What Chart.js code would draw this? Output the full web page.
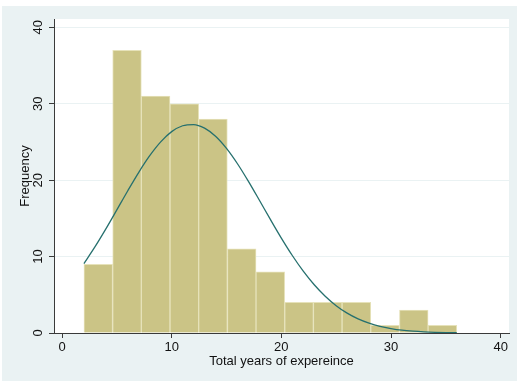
<!DOCTYPE html>
<html>
<head>
<meta charset="utf-8">
<script src="https://cdn.jsdelivr.net/npm/chart.js@4/dist/chart.umd.min.js"></script>
<style>
  html, body { margin: 0; padding: 0; background: #ffffff; }
  #wrap { width: 517px; height: 381px; position: relative; }
</style>
</head>
<body>
<div id="wrap"><canvas id="hist" width="517" height="381"></canvas></div>
<script>
// Histogram of total years of experience (13 bins) with a fitted normal curve
const binStarts = [2.00, 4.62, 7.23, 9.85, 12.46, 15.08, 17.69, 20.31, 22.92, 25.54, 28.15, 30.77, 33.38];
const binWidth = 34 / 13;
const frequencies = [9, 37, 31, 30, 28, 11, 8, 4, 4, 4, 1, 3, 1];

// Normal density curve (scaled to frequency), sampled once per year
const curveYears = [2, 3, 4, 5, 6, 7, 8, 9, 10, 11, 12, 13, 14, 15, 16, 17, 18, 19,
                    20, 21, 22, 23, 24, 25, 26, 27, 28, 29, 30, 31, 32, 33, 34, 35, 36];
const curveFreq = [9.09, 11.26, 13.62, 16.11, 18.62, 21.03, 23.20, 25.01, 26.35, 27.12, 27.28,
                   26.81, 25.75, 24.16, 22.15, 19.84, 17.37, 14.86, 12.42, 10.14, 8.09, 6.31,
                   4.81, 3.58, 2.60, 1.85, 1.29, 0.87, 0.58, 0.37, 0.24, 0.15, 0.09, 0.05, 0.03];

const xTicks = [0, 10, 20, 30, 40];
const yTicks = [0, 10, 20, 30, 40];

const BG = 'rgb(234,242,243)';
const AXIS = '#3a3a3a';
const FONT = '"Liberation Sans", Arial, Helvetica, sans-serif';

const barPoints = binStarts.map((s, i) => ({ x: s + binWidth / 2, y: frequencies[i] }));
const curvePoints = curveYears.map((x, i) => ({ x: x, y: curveFreq[i] }));

// Outer graph region and white plot region
const frame = {
  id: 'frame',
  beforeDraw(chart) {
    const { ctx, chartArea: a } = chart;
    ctx.save();
    ctx.fillStyle = '#ffffff';
    ctx.fillRect(0, 0, chart.width, chart.height);
    ctx.fillStyle = BG;
    ctx.fillRect(2, 6, chart.width - 2, chart.height - 6);
    ctx.fillStyle = '#ffffff';
    ctx.fillRect(a.left, a.top, a.right - a.left, a.bottom - a.top);
    ctx.restore();
  }
};

// Vertical (rotated) y tick labels
const yLabels = {
  id: 'yLabels',
  afterDraw(chart) {
    const { ctx } = chart;
    const ys = chart.scales.y;
    ctx.save();
    ctx.fillStyle = '#111';
    ctx.font = '13px ' + FONT;
    ctx.textAlign = 'center';
    ctx.textBaseline = 'middle';
    yTicks.forEach(v => {
      const py = ys.getPixelForValue(v);
      ctx.save();
      ctx.translate(38, py);
      ctx.rotate(-Math.PI / 2);
      ctx.fillText(String(v), 0, 0);
      ctx.restore();
    });
    ctx.restore();
  }
};

new Chart(document.getElementById('hist'), {
  type: 'bar',
  data: {
    datasets: [
      {
        type: 'line',
        data: curvePoints,
        borderColor: 'rgb(38,112,110)',
        borderWidth: 1.3,
        pointRadius: 0,
        cubicInterpolationMode: 'monotone',
        fill: false,
        order: 0
      },
      {
        type: 'bar',
        data: barPoints,
        backgroundColor: 'rgb(203,196,134)',
        borderColor: 'rgb(230,226,186)',
        borderWidth: 1,
        barPercentage: 1,
        categoryPercentage: 1,
        order: 1
      }
    ]
  },
  options: {
    responsive: false,
    animation: false,
    layout: { padding: { top: 19, right: 8, left: 0, bottom: 0 } },
    plugins: { legend: { display: false }, tooltip: { enabled: false } },
    scales: {
      x: {
        type: 'linear',
        offset: false,
        min: -0.73,
        max: 40.76,
        afterBuildTicks: s => { s.ticks = xTicks.map(v => ({ value: v })); },
        afterFit: s => { s.height = 48; },
        grid: { offset: false, drawOnChartArea: false, drawTicks: true, tickLength: 5, tickColor: AXIS, lineWidth: 1 },
        border: { display: true, color: AXIS, width: 1 },
        ticks: { color: '#111', font: { family: FONT, size: 13 }, padding: 2, maxRotation: 0 },
        title: { display: true, text: 'Total years of expereince', color: '#111',
                 font: { family: FONT, size: 13 }, padding: { top: 0, bottom: 12 } }
      },
      y: {
        type: 'linear',
        min: 0,
        max: 41.09,
        afterBuildTicks: s => { s.ticks = yTicks.map(v => ({ value: v })); },
        afterFit: s => { s.width = 54; },
        grid: {
          color: c => (c.tick && c.tick.value === 0 ? 'rgba(0,0,0,0)' : BG),
          lineWidth: 1,
          drawTicks: true,
          tickLength: 5,
          tickColor: AXIS
        },
        border: { display: true, color: AXIS, width: 1 },
        ticks: { display: false },
        title: { display: true, text: 'Frequency', color: '#111',
                 font: { family: FONT, size: 13 }, padding: { top: 18, bottom: 0 } }
      }
    }
  },
  plugins: [frame, yLabels]
});
</script>
</body>
</html>
